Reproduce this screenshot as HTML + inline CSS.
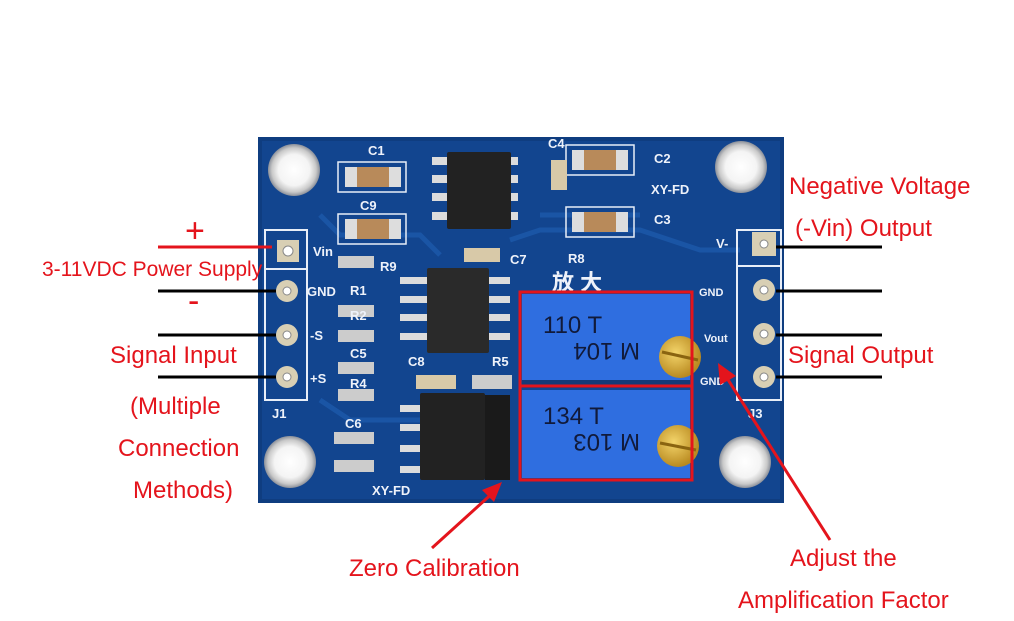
<!DOCTYPE html>
<html><head><meta charset="utf-8"><style>
html,body{margin:0;padding:0;background:#fff;width:1014px;height:621px;overflow:hidden}
svg{display:block}
text{font-family:"Liberation Sans","Noto Sans CJK SC",sans-serif}
</style></head><body>
<svg width="1014" height="621" viewBox="0 0 1014 621" xmlns="http://www.w3.org/2000/svg">
<defs>
<radialGradient id="hole" cx="50%" cy="50%" r="50%">
<stop offset="0" stop-color="#fff"/><stop offset="0.6" stop-color="#f4f4f4"/><stop offset="0.85" stop-color="#c9c9c9"/><stop offset="1" stop-color="#8a8f99"/>
</radialGradient>
<radialGradient id="brass" cx="40%" cy="40%" r="60%"><stop offset="0" stop-color="#f3d46a"/><stop offset="1" stop-color="#b98a20"/></radialGradient>
</defs>
<rect x="258" y="137" width="526" height="366" fill="#0f3d80"/>
<rect x="262" y="141" width="518" height="358" fill="#12458f"/>
<g stroke="#1a55a5" stroke-width="5" fill="none">
<path d="M320 215 L340 235 L420 235 L440 255"/>
<path d="M510 240 L540 230 L640 230 L700 250 L740 250"/>
<path d="M320 400 L350 420 L420 420"/>
<path d="M540 215 L640 215"/>
</g>
<circle cx="294" cy="170" r="26" fill="url(#hole)"/>
<circle cx="741" cy="167" r="26" fill="url(#hole)"/>
<circle cx="290" cy="462" r="26" fill="url(#hole)"/>
<circle cx="745" cy="462" r="26" fill="url(#hole)"/>
<rect x="265" y="230" width="42" height="170" fill="none" stroke="#e8eef8" stroke-width="2"/>
<line x1="265" y1="269" x2="307" y2="269" stroke="#e8eef8" stroke-width="2"/>
<rect x="737" y="230" width="44" height="170" fill="none" stroke="#e8eef8" stroke-width="2"/>
<line x1="737" y1="266" x2="781" y2="266" stroke="#e8eef8" stroke-width="2"/>
<rect x="277" y="240" width="22" height="22" fill="#d8cfb4"/><circle cx="288" cy="251" r="5" fill="#fff" stroke="#888"/>
<g fill="#d8cfb4"><circle cx="287" cy="291" r="11"/><circle cx="287" cy="335" r="11"/><circle cx="287" cy="377" r="11"/>
<rect x="752" y="232" width="24" height="24"/><circle cx="764" cy="290" r="11"/><circle cx="764" cy="334" r="11"/><circle cx="764" cy="377" r="11"/></g>
<g fill="#fff" stroke="#888"><circle cx="287" cy="291" r="4"/><circle cx="287" cy="335" r="4"/><circle cx="287" cy="377" r="4"/>
<circle cx="764" cy="244" r="4"/><circle cx="764" cy="290" r="4"/><circle cx="764" cy="334" r="4"/><circle cx="764" cy="377" r="4"/></g>
<g fill="#dcdcdc">
<rect x="432" y="157" width="86" height="8"/><rect x="432" y="175" width="86" height="8"/><rect x="432" y="193" width="86" height="8"/><rect x="432" y="212" width="86" height="8"/>
<rect x="400" y="277" width="110" height="7"/><rect x="400" y="296" width="110" height="7"/><rect x="400" y="314" width="110" height="7"/><rect x="400" y="333" width="110" height="7"/>
<rect x="400" y="405" width="110" height="7"/><rect x="400" y="424" width="110" height="7"/><rect x="400" y="445" width="110" height="7"/><rect x="400" y="466" width="110" height="7"/>
</g>
<rect x="447" y="152" width="64" height="77" fill="#222" rx="2"/>
<rect x="427" y="268" width="62" height="85" fill="#2a2a2a" rx="2"/>
<rect x="420" y="393" width="65" height="87" fill="#222" rx="2"/>
<rect x="485" y="395" width="25" height="85" fill="#1a1a1a"/>
<g>
<rect x="338" y="162" width="68" height="30" fill="none" stroke="#e8eef8" stroke-width="1.5"/>
<rect x="345" y="167" width="56" height="20" fill="#b88a5a"/><rect x="345" y="167" width="12" height="20" fill="#ddd"/><rect x="389" y="167" width="12" height="20" fill="#ddd"/>
<rect x="338" y="214" width="68" height="30" fill="none" stroke="#e8eef8" stroke-width="1.5"/>
<rect x="345" y="219" width="56" height="20" fill="#b88a5a"/><rect x="345" y="219" width="12" height="20" fill="#ddd"/><rect x="389" y="219" width="12" height="20" fill="#ddd"/>
<rect x="566" y="145" width="68" height="30" fill="none" stroke="#e8eef8" stroke-width="1.5"/>
<rect x="572" y="150" width="56" height="20" fill="#b88a5a"/><rect x="572" y="150" width="12" height="20" fill="#ddd"/><rect x="616" y="150" width="12" height="20" fill="#ddd"/>
<rect x="566" y="207" width="68" height="30" fill="none" stroke="#e8eef8" stroke-width="1.5"/>
<rect x="572" y="212" width="56" height="20" fill="#b88a5a"/><rect x="572" y="212" width="12" height="20" fill="#ddd"/><rect x="616" y="212" width="12" height="20" fill="#ddd"/>
<rect x="551" y="160" width="16" height="30" fill="#d8c9a8"/>
<rect x="464" y="248" width="36" height="14" fill="#d8c9a8"/>
<rect x="416" y="375" width="40" height="14" fill="#d8c9a8"/>
<rect x="338" y="256" width="36" height="12" fill="#ccc"/><rect x="338" y="305" width="36" height="12" fill="#ccc"/><rect x="338" y="330" width="36" height="12" fill="#ccc"/>
<rect x="338" y="362" width="36" height="12" fill="#ccc"/><rect x="338" y="389" width="36" height="12" fill="#ccc"/><rect x="334" y="432" width="40" height="12" fill="#ccc"/><rect x="334" y="460" width="40" height="12" fill="#ccc"/>
<rect x="472" y="375" width="40" height="14" fill="#ccc"/>
</g>
<g fill="#eef2fa" font-size="13" font-weight="bold">
<text x="368" y="155">C1</text><text x="360" y="210">C9</text><text x="548" y="148">C4</text><text x="654" y="163">C2</text><text x="651" y="194">XY-FD</text><text x="654" y="224">C3</text>
<text x="313" y="256">Vin</text><text x="380" y="271">R9</text><text x="510" y="264">C7</text><text x="568" y="263">R8</text>
<text x="307" y="296">GND</text><text x="350" y="295">R1</text><text x="310" y="340">-S</text><text x="350" y="320">R2</text><text x="350" y="358">C5</text>
<text x="310" y="383">+S</text><text x="350" y="388">R4</text><text x="408" y="366">C8</text><text x="492" y="366">R5</text>
<text x="272" y="418">J1</text><text x="345" y="428">C6</text><text x="372" y="495">XY-FD</text>
<text x="716" y="248">V-</text><text x="699" y="296" font-size="11">GND</text><text x="704" y="342" font-size="11">Vout</text><text x="700" y="385" font-size="11">GND</text><text x="748" y="418">J3</text>
<text x="552" y="290" font-size="22">放 大</text>
</g>
<rect x="522" y="294" width="168" height="90" fill="#2f6ee0"/>
<rect x="522" y="390" width="168" height="88" fill="#2f6ee0"/>
<rect x="522" y="380" width="168" height="8" fill="#163a78"/>
<g fill="#111a3a" font-family="Liberation Mono,monospace" font-size="24">
<text x="543" y="333">110 T</text>
<text x="543" y="424">134 T</text>
</g>
<g fill="#111a3a" font-family="Liberation Mono,monospace" font-size="24" transform="rotate(180 600 354)"><text x="560" y="365">M 104</text></g>
<g fill="#111a3a" font-family="Liberation Mono,monospace" font-size="24" transform="rotate(180 600 445)"><text x="560" y="456">M 103</text></g>
<circle cx="680" cy="357" r="21" fill="url(#brass)"/><line x1="662" y1="352" x2="698" y2="360" stroke="#8a6410" stroke-width="3"/>
<circle cx="678" cy="446" r="21" fill="url(#brass)"/><line x1="660" y1="443" x2="696" y2="450" stroke="#8a6410" stroke-width="3"/>
<rect x="520" y="292" width="172" height="94" fill="none" stroke="#e4141c" stroke-width="3"/>
<rect x="520" y="386" width="172" height="94" fill="none" stroke="#e4141c" stroke-width="3"/>
<line x1="158" y1="247" x2="272" y2="247" stroke="#e4141c" stroke-width="3"/>
<g stroke="#000" stroke-width="3">
<line x1="158" y1="291" x2="276" y2="291"/><line x1="158" y1="335" x2="276" y2="335"/><line x1="158" y1="377" x2="276" y2="377"/>
<line x1="776" y1="247" x2="882" y2="247"/><line x1="776" y1="291" x2="882" y2="291"/><line x1="776" y1="335" x2="882" y2="335"/><line x1="776" y1="377" x2="882" y2="377"/>
</g>
<g stroke="#e4141c" stroke-width="3" fill="#e4141c">
<line x1="432" y1="548" x2="496" y2="490"/>
<polygon points="502,482 482,490 494,502" stroke="none"/>
<line x1="830" y1="540" x2="725" y2="375"/>
<polygon points="718,363 720,385 736,376" stroke="none"/>
</g>
<g fill="#e4141c" font-size="24">
<text x="185" y="242" font-size="34">+</text>
<text x="188" y="312" font-size="34">-</text>
<text x="42" y="276" font-size="21">3-11VDC Power Supply</text>
<text x="110" y="363">Signal Input</text>
<text x="130" y="414">(Multiple</text>
<text x="118" y="456">Connection</text>
<text x="133" y="498">Methods)</text>
<text x="789" y="194">Negative Voltage</text>
<text x="795" y="236">(-Vin) Output</text>
<text x="788" y="363">Signal Output</text>
<text x="349" y="576">Zero Calibration</text>
<text x="790" y="566">Adjust the</text>
<text x="738" y="608">Amplification Factor</text>
</g>
</svg>
</body></html>
